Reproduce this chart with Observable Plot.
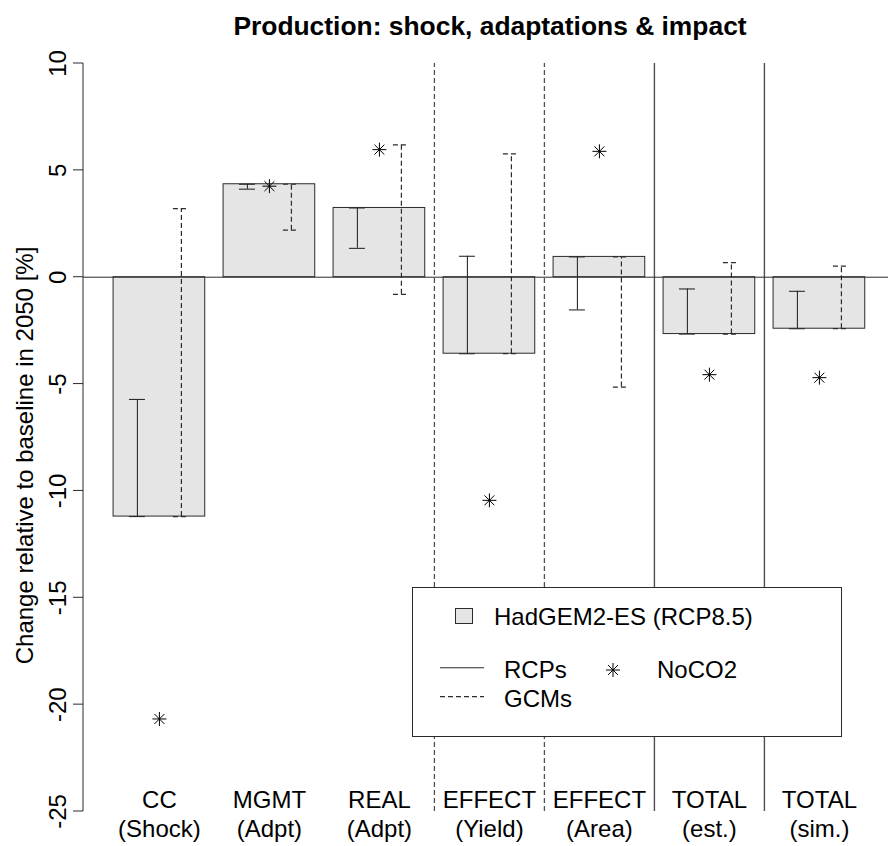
<!DOCTYPE html>
<html>
<head>
<meta charset="utf-8">
<script src="https://cdn.jsdelivr.net/npm/d3@7"></script>
<script src="https://cdn.jsdelivr.net/npm/@observablehq/plot@0.6"></script>
<style>
  html, body { margin: 0; padding: 0; background: #fff; }
  #wrap { position: relative; width: 888px; height: 846px; font-family: "Liberation Sans", Arial, sans-serif; }
  #legend { position: absolute; left: 412px; top: 587px; }
</style>
</head>
<body>
<div id="wrap"></div>
<script>
// ---------- data ----------
const categories = ["CC\n(Shock)", "MGMT\n(Adpt)", "REAL\n(Adpt)", "EFFECT\n(Yield)", "EFFECT\n(Area)", "TOTAL\n(est.)", "TOTAL\n(sim.)"];
const hadgem = [-11.2, 4.35, 3.24, -3.58, 0.95, -2.66, -2.41];   // HadGEM2-ES (RCP8.5) bars
const rcpLo  = [-11.2, 4.12, 1.35, -3.58, -1.53, -2.66, -2.41];  // RCPs range (solid)
const rcpHi  = [-5.72, 4.35, 3.24, 0.98, 0.95, -0.55, -0.66];
const gcmLo  = [-11.2, 2.20, -0.80, -3.58, -5.14, -2.66, -2.41]; // GCMs range (dashed)
const gcmHi  = [3.21, 4.35, 6.19, 5.77, 0.95, 0.68, 0.52];
const noco2  = [-20.67, 4.26, 5.97, -10.44, 5.89, -4.56, -4.70]; // NoCO2 stars
const yTicks = [-25, -20, -15, -10, -5, 0, 5, 10];
const dashedSeparators = [categories[3], categories[4]];
const solidSeparators  = [categories[5], categories[6]];
const titleText = "Production: shock, adaptations & impact";
const yLabelText = "Change relative to baseline in 2050 [%]";
const legendLabels = ["HadGEM2-ES (RCP8.5)", "RCPs", "GCMs", "NoCO2"];

// ---------- layout ----------
const W = 888, H = 846;
const mL = 83, mR = 0, mT = 63, mB = 35;
const padInner = 1 / 6, padOuter = 0.2424, align = 0.564;
const step = (W - mL - mR) / (categories.length - padInner + 2 * padOuter);
const bw = step * (1 - padInner);
const errOffset = 22, capHalf = 8;
const capInset = bw / 2 - capHalf;
const INK = "#2b2b2b";
const SEP = "#505050";
const FILL = "#e5e5e5";
const DASH = "5,3";
const FONT = "'Liberation Sans', Arial, sans-serif";

const rows = categories.map((c, i) => ({
  cat: c, had: hadgem[i], rcpLo: rcpLo[i], rcpHi: rcpHi[i],
  gcmLo: gcmLo[i], gcmHi: gcmHi[i], noco2: noco2[i]
}));

// R pch=8 style 8-spoke star symbol
const star8 = {
  draw(context, size) {
    const r = Math.sqrt(size / Math.PI);
    const d = r * Math.SQRT1_2;
    context.moveTo(-r, 0); context.lineTo(r, 0);
    context.moveTo(0, -r); context.lineTo(0, r);
    context.moveTo(-d, -d); context.lineTo(d, d);
    context.moveTo(-d, d); context.lineTo(d, -d);
  }
};

// y axis line + ticks drawn from Plot's y scale
function yAxisMark(index, scales, values, dimensions) {
  const g = d3.create("svg:g").attr("stroke", INK).attr("stroke-width", 1).attr("fill", "none");
  const x0 = dimensions.marginLeft;
  g.append("line").attr("x1", x0).attr("x2", x0)
    .attr("y1", scales.y(yTicks[0])).attr("y2", scales.y(yTicks[yTicks.length - 1]));
  for (const t of yTicks) {
    g.append("line").attr("x1", x0 - 10).attr("x2", x0).attr("y1", scales.y(t)).attr("y2", scales.y(t));
  }
  return g.node();
}

const plot = Plot.plot({
  width: W, height: H,
  marginLeft: mL, marginRight: mR, marginTop: mT, marginBottom: mB,
  style: { fontFamily: FONT, fontSize: "24px", background: "white", color: "black" },
  x: { type: "band", domain: categories, paddingInner: padInner, paddingOuter: padOuter, align: align, round: false, axis: null },
  y: { domain: [yTicks[0], yTicks[yTicks.length - 1]], axis: null },
  marks: [
    // group separators
    Plot.ruleX(dashedSeparators, { x: d => d, y1: () => yTicks[0], y2: () => yTicks[yTicks.length - 1], dx: -step / 2, stroke: SEP, strokeWidth: 1.3, strokeDasharray: DASH }),
    Plot.ruleX(solidSeparators, { x: d => d, y1: () => yTicks[0], y2: () => yTicks[yTicks.length - 1], dx: -step / 2, stroke: SEP, strokeWidth: 1.4 }),
    // bars
    Plot.barY(rows, { x: "cat", y: "had", fill: FILL, stroke: INK, strokeWidth: 1 }),
    Plot.ruleY([0], { stroke: INK, strokeWidth: 1 }),
    // RCP ranges (solid)
    Plot.ruleX(rows, { x: "cat", y1: "rcpLo", y2: "rcpHi", dx: -errOffset, stroke: INK, strokeWidth: 1.1 }),
    Plot.tickY(rows, { x: "cat", y: "rcpLo", dx: -errOffset, insetLeft: capInset, insetRight: capInset, stroke: INK, strokeWidth: 1.1 }),
    Plot.tickY(rows, { x: "cat", y: "rcpHi", dx: -errOffset, insetLeft: capInset, insetRight: capInset, stroke: INK, strokeWidth: 1.1 }),
    // GCM ranges (dashed)
    Plot.ruleX(rows, { x: "cat", y1: "gcmLo", y2: "gcmHi", dx: errOffset, stroke: INK, strokeWidth: 1.2, strokeDasharray: DASH }),
    Plot.tickY(rows, { x: "cat", y: "gcmLo", dx: errOffset, insetLeft: capInset, insetRight: capInset, stroke: INK, strokeWidth: 1.2, strokeDasharray: DASH }),
    Plot.tickY(rows, { x: "cat", y: "gcmHi", dx: errOffset, insetLeft: capInset, insetRight: capInset, stroke: INK, strokeWidth: 1.2, strokeDasharray: DASH }),
    // NoCO2 stars
    Plot.dot(rows, { x: "cat", y: "noco2", symbol: star8, r: 7, stroke: "black", strokeWidth: 1, fill: "none" }),
    // axis
    yAxisMark,
    Plot.text(yTicks, { y: d => d, text: d => String(d), frameAnchor: "left", rotate: -90, lineAnchor: "bottom", textAnchor: "middle", dx: -18, fontSize: 24, fill: "black" }),
    // category labels
    Plot.text(rows, { x: "cat", text: "cat", frameAnchor: "bottom", lineAnchor: "bottom", textAnchor: "middle", dy: 25.7, fontSize: 24, lineHeight: 1.225, fill: "black" }),
    // title & y label
    Plot.text([titleText], { text: d => d, frameAnchor: "top", lineAnchor: "bottom", dy: -28.5, dx: 4, fontSize: 26.4, fontWeight: "bold", fill: "black" }),
    Plot.text([yLabelText], { text: d => d, frameAnchor: "left", rotate: -90, lineAnchor: "bottom", textAnchor: "middle", dx: -51, dy: 18, fontSize: 24, fill: "black" })
  ]
});

const wrap = document.getElementById("wrap");
wrap.appendChild(plot);

// ---------- legend (overlay box inside plot) ----------
const lg = d3.select(wrap).append("div").attr("id", "legend")
  .append("svg").attr("width", 431).attr("height", 151)
  .style("font-family", FONT).style("font-size", "24px");
lg.append("rect").attr("x", 0.5).attr("y", 0.5).attr("width", 429).attr("height", 149)
  .attr("fill", "white").attr("stroke", INK).attr("stroke-width", 1);
lg.append("rect").attr("x", 43.5).attr("y", 21.5).attr("width", 17).attr("height", 15)
  .attr("fill", FILL).attr("stroke", INK).attr("stroke-width", 1);
lg.append("text").attr("x", 82).attr("y", 38).text(legendLabels[0]);
lg.append("line").attr("x1", 28).attr("x2", 72).attr("y1", 80.7).attr("y2", 80.7).attr("stroke", INK).attr("stroke-width", 1.1);
lg.append("text").attr("x", 92).attr("y", 91).text(legendLabels[1]);
lg.append("line").attr("x1", 28).attr("x2", 72).attr("y1", 109.7).attr("y2", 109.7).attr("stroke", INK).attr("stroke-width", 1.2).attr("stroke-dasharray", DASH);
lg.append("text").attr("x", 92).attr("y", 120).text(legendLabels[2]);
lg.append("path").attr("transform", "translate(201,83)").attr("d", d3.symbol(star8, 49 * Math.PI)()).attr("stroke", "black").attr("fill", "none");
lg.append("text").attr("x", 245).attr("y", 91).text(legendLabels[3]);
</script>
</body>
</html>
